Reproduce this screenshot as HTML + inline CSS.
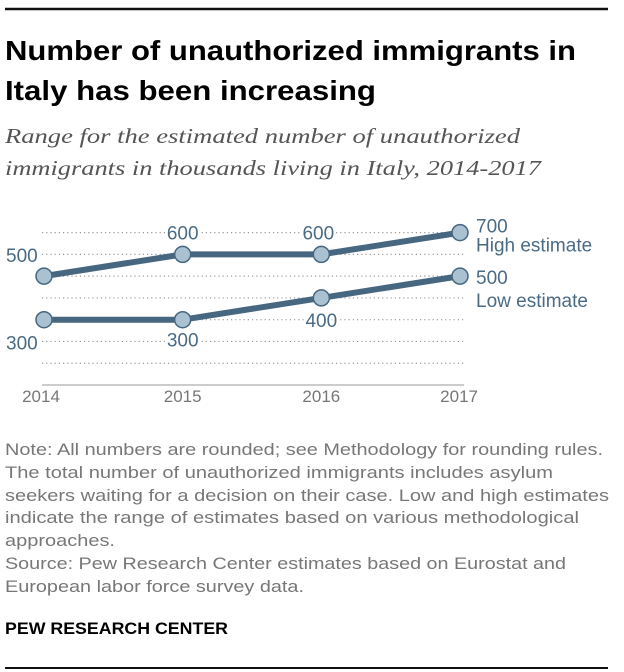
<!DOCTYPE html>
<html><head><meta charset="utf-8"><style>
html,body{margin:0;padding:0;background:#fff}
svg{display:block}
text{font-family:"Liberation Sans",sans-serif}
</style></head><body>
<svg id="chart" width="624" height="672" viewBox="0 0 624 672" xmlns="http://www.w3.org/2000/svg">
<line x1="5" y1="9" x2="608" y2="9" stroke="#111" stroke-width="2.5"/>
<g font-weight="bold" font-size="28" fill="#000">
<text x="5" y="60" textLength="571" lengthAdjust="spacingAndGlyphs">Number of unauthorized immigrants in</text>
<text x="5" y="100" textLength="371" lengthAdjust="spacingAndGlyphs">Italy has been increasing</text>
</g>
<g font-style="italic" font-size="21" fill="#555" style="font-family:'Liberation Serif',serif">
<text x="5" y="143" textLength="515" lengthAdjust="spacingAndGlyphs" style="font-family:'Liberation Serif',serif">Range for the estimated number of unauthorized</text>
<text x="5" y="175" textLength="536" lengthAdjust="spacingAndGlyphs" style="font-family:'Liberation Serif',serif">immigrants in thousands living in Italy, 2014-2017</text>
</g>
<g id="grid"></g>
<line x1="42" y1="385" x2="464" y2="385" stroke="#ccc" stroke-width="2"/>
<g id="xaxis"></g>
<g id="series"></g>
<g id="labels"></g>
<g font-size="17" fill="#777">
<text x="5" y="455" textLength="598" lengthAdjust="spacingAndGlyphs">Note: All numbers are rounded; see Methodology for rounding rules.</text>
<text x="5" y="478" textLength="548" lengthAdjust="spacingAndGlyphs">The total number of unauthorized immigrants includes asylum</text>
<text x="5" y="501" textLength="604" lengthAdjust="spacingAndGlyphs">seekers waiting for a decision on their case. Low and high estimates</text>
<text x="5" y="523" textLength="574" lengthAdjust="spacingAndGlyphs">indicate the range of estimates based on various methodological</text>
<text x="5" y="546" textLength="110" lengthAdjust="spacingAndGlyphs">approaches.</text>
<text x="5" y="569" textLength="561" lengthAdjust="spacingAndGlyphs">Source: Pew Research Center estimates based on Eurostat and</text>
<text x="5" y="592" textLength="299" lengthAdjust="spacingAndGlyphs">European labor force survey data.</text>
</g>
<text x="5" y="634" font-size="17" font-weight="bold" fill="#000" textLength="223" lengthAdjust="spacingAndGlyphs">PEW RESEARCH CENTER</text>
<line x1="5" y1="668" x2="608" y2="668" stroke="#111" stroke-width="2"/>
</svg>
<script>
const years = ["2014","2015","2016","2017"];
const highValues = [500, 600, 600, 700];
const lowValues = [300, 300, 400, 500];
const highLabels = ["500","600","600","700"];
const lowLabels = ["300","300","400","500"];
const gridValues = [700,600,500,400,300,200,100];

const NS = "http://www.w3.org/2000/svg";
const xPos = i => 44 + i * (460 - 44) / (years.length - 1);
const yPos = v => 385 - v * 0.2177;
function mk(tag, attrs, parent){const e=document.createElementNS(NS,tag);for(const k in attrs)e.setAttribute(k,attrs[k]);parent.appendChild(e);return e;}

const grid = document.getElementById('grid');
gridValues.forEach(v=>{
  const l = mk('line',{x1:42,x2:464,y1:yPos(v),y2:yPos(v),stroke:'#999','stroke-width':1.2,'stroke-dasharray':'1.2 3'},grid);
  
  
});

const xa = document.getElementById('xaxis');
years.forEach((y,i)=>{
  const last = i===years.length-1;
  const t = mk('text',{x:last?478:xPos(i)+(i===0?-3:0),y:402,'font-size':17,fill:'#777','text-anchor':last?'end':'middle'},xa);
  t.textContent=y;
  
  
});

const sg = document.getElementById('series');
[[highValues,'high-estimate-line'],[lowValues,'low-estimate-line']].forEach(([vals,name])=>{
  const p = mk('polyline',{points:vals.map((v,i)=>xPos(i)+','+yPos(v)).join(' '),fill:'none',stroke:'#46677f','stroke-width':6,'stroke-linejoin':'round'},sg);
  
  
});
[[highValues,'high-point'],[lowValues,'low-point']].forEach(([vals,name])=>{
  vals.forEach((v,i)=>{
    const c = mk('circle',{cx:xPos(i),cy:yPos(v),r:8,fill:'#a9c1d1',stroke:'#46677f','stroke-width':1.5},sg);
    
    
  });
});

const lg = document.getElementById('labels');
function lab(txt,x,y,anchor,name){
  const t = mk('text',{x:x,y:y,'font-size':19,fill:'#4a6b85','text-anchor':anchor,stroke:'#fff','stroke-width':5,'paint-order':'stroke'},lg);
  t.textContent=txt;
  
  
}
lab(highLabels[0],6,yPos(highValues[0])-14,'start','high-label');
lab(highLabels[1],xPos(1),yPos(highValues[1])-15,'middle','high-label');
lab(highLabels[2],xPos(2)-3,yPos(highValues[2])-15,'middle','high-label');
lab(highLabels[3],476,yPos(highValues[3])+0,'start','high-label');
lab("High estimate",476,yPos(highValues[3])+19,'start','high-legend');
lab(lowLabels[0],6,yPos(lowValues[0])+30,'start','low-label');
lab(lowLabels[1],xPos(1),yPos(lowValues[1])+27,'middle','low-label');
lab(lowLabels[2],xPos(2),yPos(lowValues[2])+29,'middle','low-label');
lab(lowLabels[3],476,yPos(lowValues[3])+8,'start','low-label');
lab("Low estimate",476,yPos(lowValues[3])+31,'start','low-legend');
</script>
</body></html>
